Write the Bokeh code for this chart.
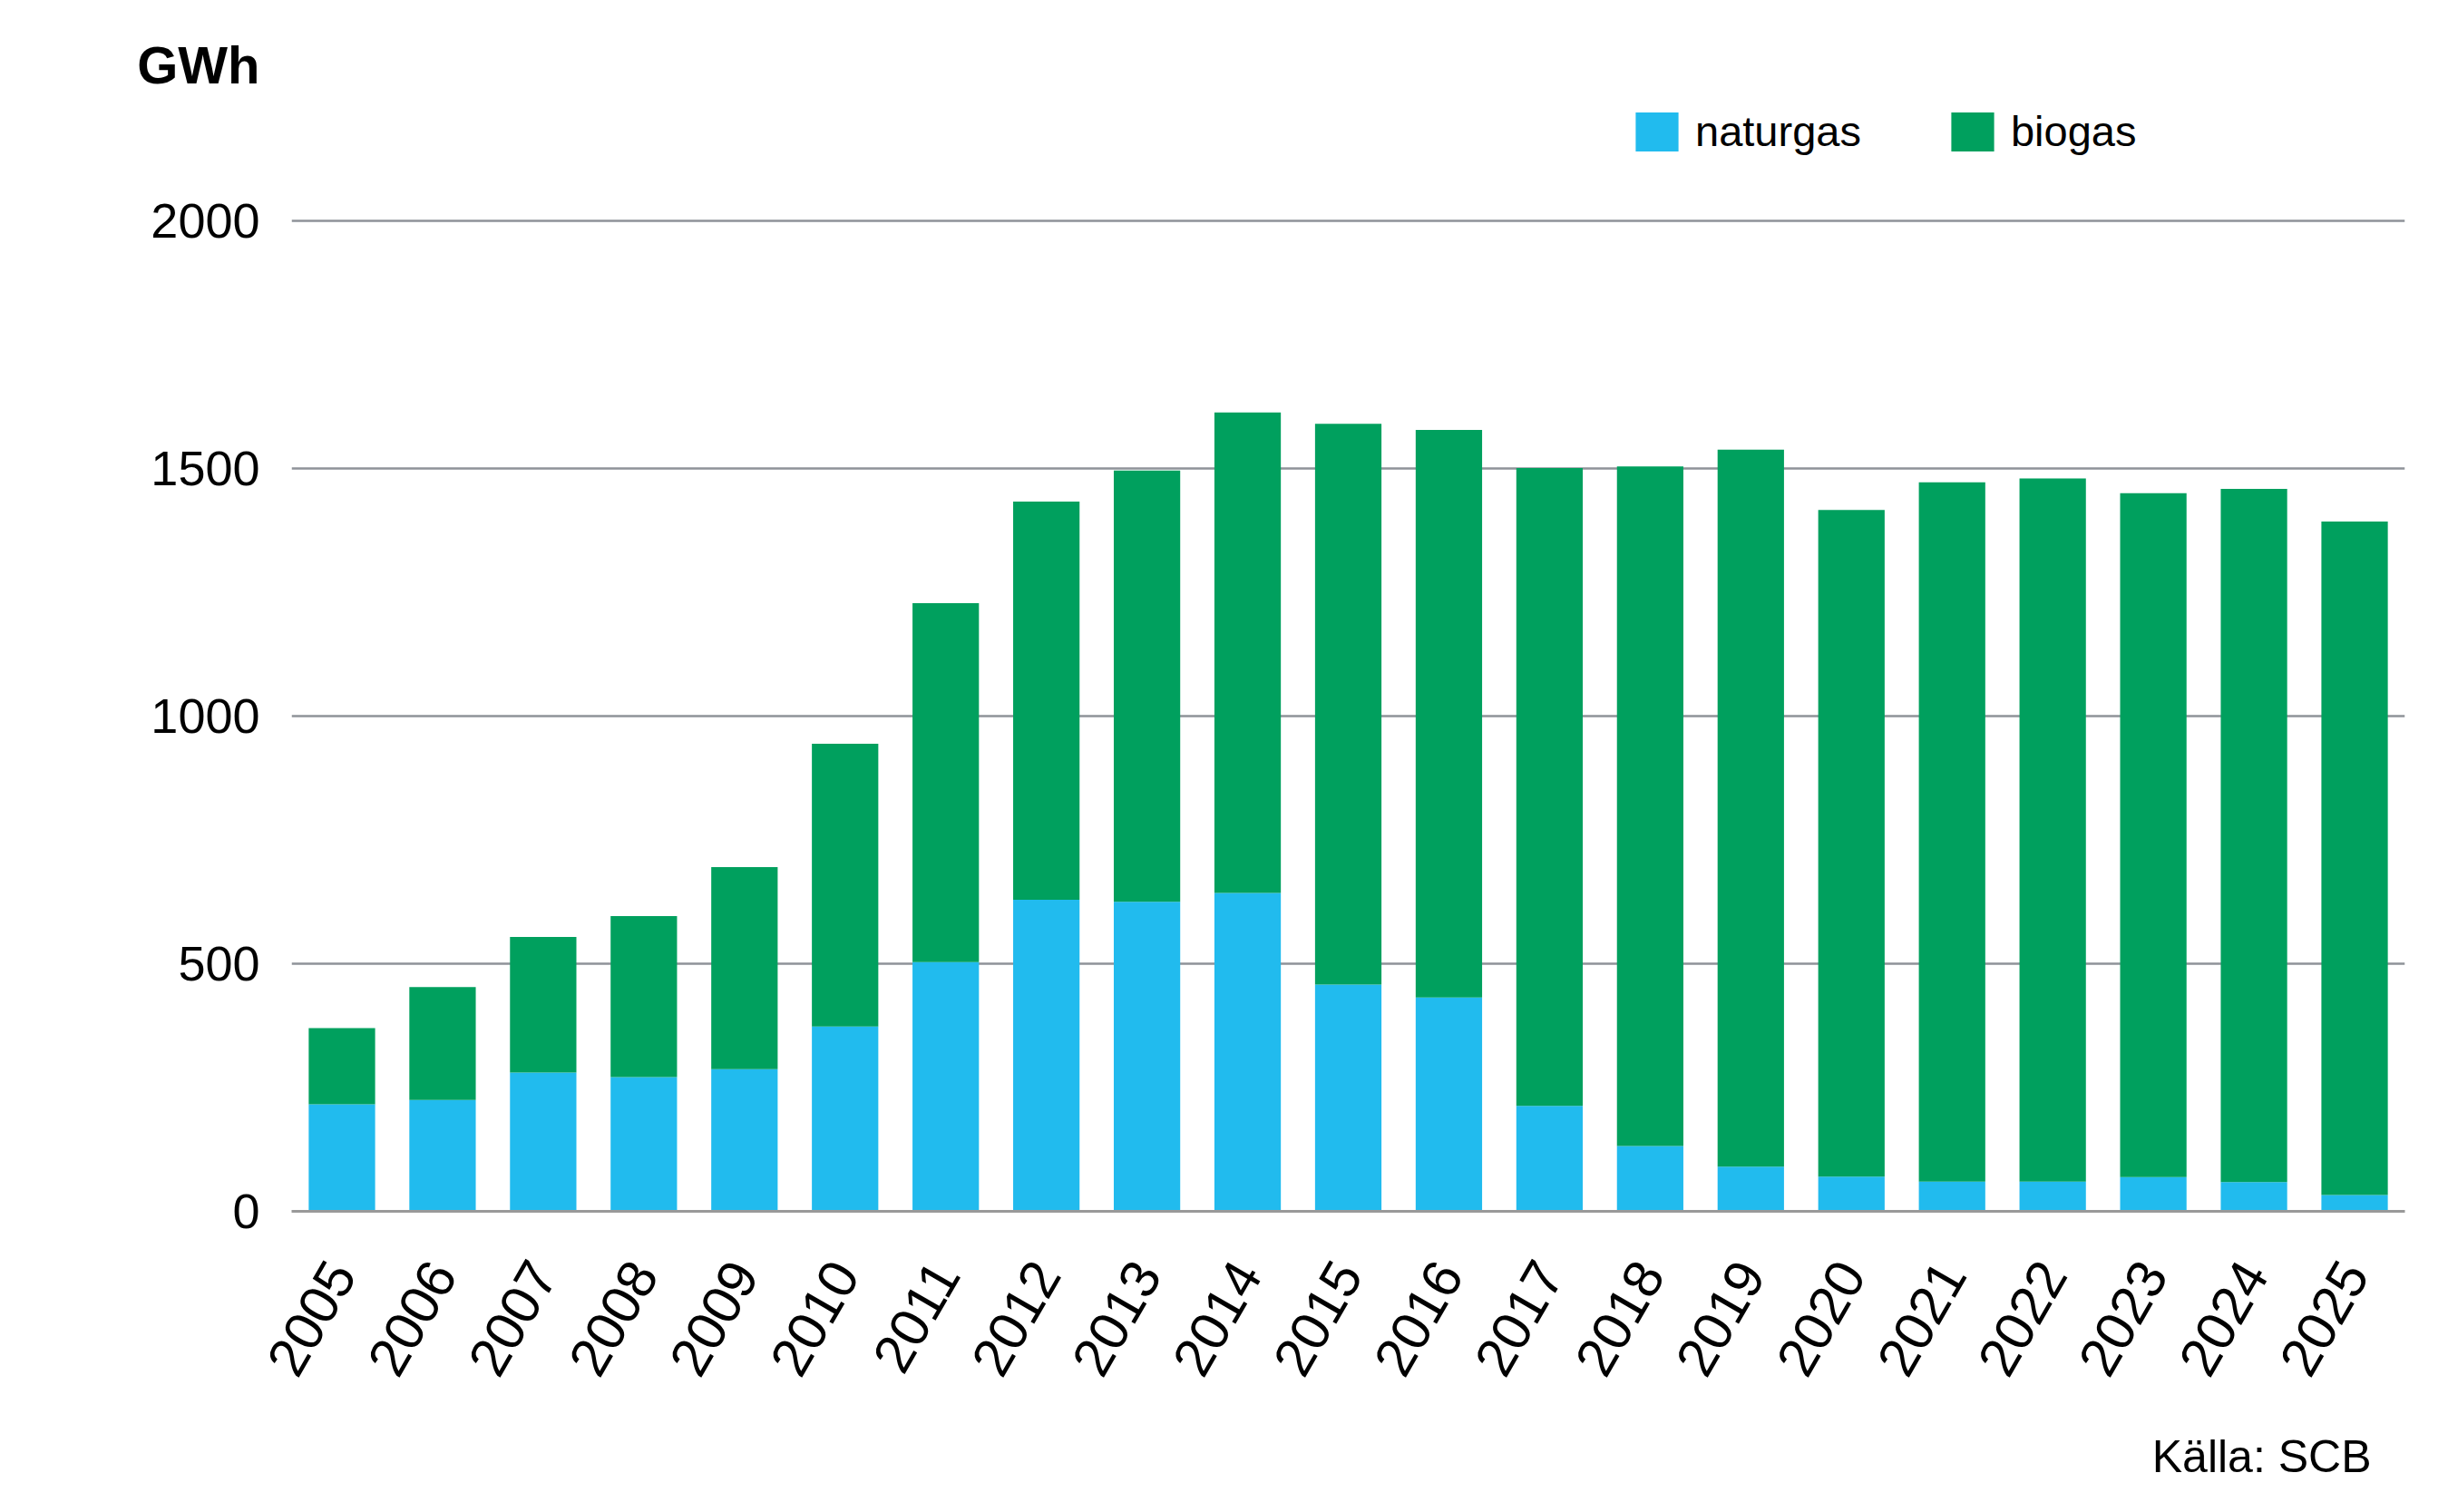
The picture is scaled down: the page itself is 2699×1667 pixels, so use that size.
import math
from bokeh.plotting import figure
from bokeh.models import (ColumnDataSource, FactorRange, Range1d, FixedTicker,
                          Legend, LegendItem, Title)
from bokeh.embed import file_html
from bokeh.resources import INLINE

years = [str(y) for y in range(2005, 2026)]
naturgas = [216, 225, 280, 271, 287, 373, 503, 629, 625, 643, 458, 432, 213, 132, 90, 70, 60, 60, 69, 59, 33]
biogas = [154, 228, 274, 325, 408, 571, 725, 804, 871, 970, 1132, 1146, 1288, 1372, 1448, 1346, 1412, 1420, 1381, 1400, 1360]
series = ["naturgas", "biogas"]
colors = ["#21BBEE", "#00A05E"]
y_ticks = [0, 500, 1000, 1500, 2000]

FONT = "Liberation Sans"
W, H = 2683, 1651
LEFT, RIGHT, TOP, BOTTOM = 321, 32, 100, 316
frame_h = H - TOP - BOTTOM
px_per_unit = 1092 / 2000.0
y_top = frame_h / px_per_unit

src = ColumnDataSource(dict(year=years, naturgas=naturgas, biogas=biogas))

p = figure(x_range=FactorRange(factors=years), y_range=Range1d(0, y_top),
           width=W, height=H, output_backend="svg", toolbar_location=None,
           min_border_left=LEFT, min_border_right=RIGHT,
           min_border_top=TOP, min_border_bottom=BOTTOM)
p.outline_line_color = None
p.background_fill_color = "white"

renderers = p.vbar_stack(series, x="year", width=0.66, color=colors,
                         source=src, line_color=None)

# axes
p.yaxis.ticker = FixedTicker(ticks=y_ticks)
p.yaxis.axis_line_color = None
p.yaxis.major_tick_line_color = None
p.yaxis.minor_tick_line_color = None
p.yaxis.major_label_standoff = 29
p.yaxis.major_label_text_font = FONT
p.yaxis.major_label_text_font_size = "54px"
p.yaxis.major_label_text_color = "#000000"

p.xaxis.axis_line_color = "#999999"
p.xaxis.axis_line_width = 3
p.xaxis.major_tick_line_color = None
p.xaxis.minor_tick_line_color = None
p.xaxis.major_label_orientation = math.radians(60)
p.xaxis.major_label_standoff = 54
p.xaxis.major_label_text_font = FONT
p.xaxis.major_label_text_font_size = "60px"
p.xaxis.major_label_text_color = "#000000"

p.xgrid.grid_line_color = None
p.ygrid.grid_line_color = "#8f9399"
p.ygrid.grid_line_width = 2.5

# legend (bar legend swatches are inset by 10% on each side)
legend = Legend(items=[LegendItem(label=s, renderers=[r]) for s, r in zip(series, renderers)],
                orientation="horizontal", location=(1476, 1163),
                glyph_width=59, glyph_height=54, label_standoff=13, spacing=93,
                padding=0, margin=0, border_line_color=None, background_fill_alpha=0,
                label_text_font=FONT, label_text_font_size="47px",
                label_text_color="#000000", label_height=54)
p.add_layout(legend, "center")

# unit label top-left (right edge aligned with the tick labels)
frame_right = W - RIGHT
p.title.text = "GWh"
p.title.align = "right"
p.title.offset = frame_right - 286
p.title.standoff = -6
p.title.text_font = FONT
p.title.text_font_style = "bold"
p.title.text_font_size = "58px"
p.title.text_color = "#000000"

# spacer between the year labels and the source note, then the source note
p.add_layout(Title(text=" ", text_font_size="35px", standoff=0), "below")
p.add_layout(Title(text="Källa: SCB", align="right", offset=37, standoff=0,
                   text_font=FONT, text_font_style="normal", text_font_size="50px",
                   text_color="#000000"), "below")

open("out.html", "w").write(file_html(p, INLINE))
